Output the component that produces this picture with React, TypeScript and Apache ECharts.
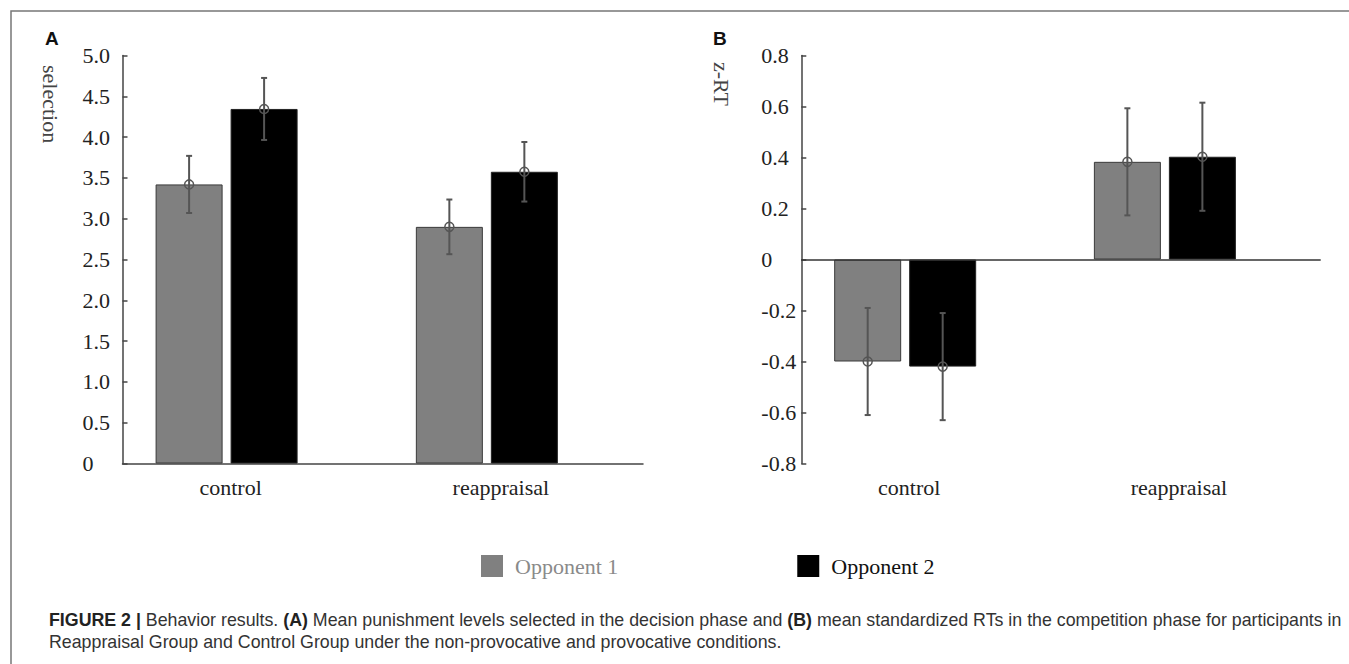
import React, { useEffect, useRef } from 'react';
import * as echarts from 'echarts';

// ---------- data ----------
const categories = ['control', 'reappraisal'];
const categoryPositions = [1, 2];
const seriesNames = ['Opponent 1', 'Opponent 2'];

// Panel A: selection (mean, error)
const selectionOpponent1 = [3.42, 2.9];
const selectionOpponent1Err = [0.35, 0.335];
const selectionOpponent2 = [4.345, 3.575];
const selectionOpponent2Err = [0.38, 0.365];

// Panel B: z-RT (mean, error)
const zrtOpponent1 = [-0.4, 0.383];
const zrtOpponent1Err = [0.21, 0.21];
const zrtOpponent2 = [-0.42, 0.403];
const zrtOpponent2Err = [0.21, 0.212];

const selectionAxis = { min: 0, max: 5, interval: 0.5 };
const zrtAxis = { min: -0.8, max: 0.8, interval: 0.2 };

// ---------- styles ----------
const SERIF = "'Liberation Serif', 'Times New Roman', serif";
const SANS = "'Liberation Sans', Arial, sans-serif";
const GRAY = '#808080';
const BLACK = '#000000';
const BAR_WIDTH = 67;
const BAR_GAP_PX = 8;
const HALF_OFFSET = (BAR_WIDTH + BAR_GAP_PX) / 2;
// category labels sit slightly right of the bar-pair centres in the original
const LABEL_SHIFT_PAD = [8, 28];

const barData = (vals: number[]) => categoryPositions.map((x, i) => [x, vals[i]]);
const errData = (vals: number[], errs: number[]) =>
  categoryPositions.map((x, i) => [x, vals[i], errs[i]]);

const makeErrRender = (offset: number) => (params: any, api: any) => {
  const x = api.value(0);
  const m = api.value(1);
  const e = api.value(2);
  const c = api.coord([x, m]);
  const hi = api.coord([x, m + e]);
  const lo = api.coord([x, m - e]);
  const cx = c[0] + offset;
  const st = { stroke: '#555555', lineWidth: 2 };
  return {
    type: 'group',
    children: [
      { type: 'line', shape: { x1: cx, y1: hi[1], x2: cx, y2: lo[1] }, style: st },
      { type: 'line', shape: { x1: cx - 3, y1: hi[1], x2: cx + 3, y2: hi[1] }, style: st },
      { type: 'line', shape: { x1: cx - 3, y1: lo[1], x2: cx + 3, y2: lo[1] }, style: st },
      {
        type: 'circle',
        shape: { cx, cy: c[1], r: 4.5 },
        style: { fill: 'none', stroke: '#555555', lineWidth: 1.5 },
      },
    ],
  };
};

const labelRich: any = {};
categories.forEach((_, i) => {
  labelRich[`c${i}`] = {
    fontFamily: SERIF,
    fontSize: 22,
    color: '#222',
    padding: [0, 0, 0, LABEL_SHIFT_PAD[i]],
  };
});

const xAxisBase = (gridIndex: number, showLine: boolean) => ({
  type: 'value',
  gridIndex,
  min: 0.6,
  max: 2.6,
  axisLine: { show: showLine, onZero: false, lineStyle: { color: '#444', width: 1.5 } },
  axisTick: { show: false },
  splitLine: { show: false },
  axisLabel: {
    customValues: categoryPositions,
    formatter: (v: number) => {
      const i = categoryPositions.indexOf(v);
      return i >= 0 ? `{c${i}|${categories[i]}}` : '';
    },
    rich: labelRich,
    fontFamily: SERIF,
    fontSize: 22,
    color: '#222',
    margin: 13,
  },
});

const yAxisBase = (gridIndex: number, ax: { min: number; max: number; interval: number }) => ({
  type: 'value',
  gridIndex,
  min: ax.min,
  max: ax.max,
  interval: ax.interval,
  axisLine: { show: true, onZero: false, lineStyle: { color: '#444', width: 1.5 } },
  axisTick: { show: true, inside: true, length: 5, lineStyle: { color: '#444', width: 1.5 } },
  splitLine: { show: false },
  axisLabel: {
    formatter: (v: number) => (Math.abs(v) < 1e-9 ? '0' : v.toFixed(1)),
    align: 'left',
    margin: 40,
    fontFamily: SERIF,
    fontSize: 22,
    color: '#222',
  },
});

const barSeries = (name: string, idx: number, vals: number[], color: string, border: string, markZero = false) => ({
  type: 'bar',
  name,
  xAxisIndex: idx,
  yAxisIndex: idx,
  data: barData(vals),
  barWidth: BAR_WIDTH,
  barGap: `${(BAR_GAP_PX / BAR_WIDTH) * 100}%`,
  itemStyle: { color, borderColor: border, borderWidth: 1 },
  z: 2,
  ...(markZero
    ? {
        markLine: {
          silent: true,
          symbol: 'none',
          label: { show: false },
          lineStyle: { color: '#333', type: 'solid', width: 1.5 },
          data: [{ yAxis: 0 }],
        },
      }
    : {}),
});

const errSeries = (idx: number, vals: number[], errs: number[], offset: number) => ({
  type: 'custom',
  name: `err-${idx}-${offset}`,
  xAxisIndex: idx,
  yAxisIndex: idx,
  data: errData(vals, errs),
  encode: { x: 0, y: 1 },
  renderItem: makeErrRender(offset),
  z: 5,
});

export default function App() {
  const ref = useRef<HTMLDivElement>(null);

  useEffect(() => {
    if (!ref.current) return;
    const chart = echarts.init(ref.current, undefined, { renderer: 'svg' });
    const option: any = {
      animation: false,
      backgroundColor: '#ffffff',
      grid: [
        { left: 122.5, top: 55.5, width: 520.5, height: 408 },
        { left: 801.3, top: 55.5, width: 519.4, height: 408 },
      ],
      xAxis: [xAxisBase(0, true), xAxisBase(1, false)],
      yAxis: [yAxisBase(0, selectionAxis), yAxisBase(1, zrtAxis)],
      legend: {
        left: 476,
        top: 550,
        icon: 'rect',
        itemWidth: 22,
        itemHeight: 22,
        itemGap: 179,
        itemStyle: { borderWidth: 0 },
        selectedMode: false,
        data: [
          { name: seriesNames[0], textStyle: { color: '#8a8a8a' } },
          { name: seriesNames[1], textStyle: { color: '#111' } },
        ],
        textStyle: { fontFamily: SERIF, fontSize: 22, padding: [0, 0, 0, 7] },
      },
      series: [
        barSeries(seriesNames[0], 0, selectionOpponent1, GRAY, '#3a3a3a'),
        barSeries(seriesNames[1], 0, selectionOpponent2, BLACK, '#222'),
        barSeries(seriesNames[0], 1, zrtOpponent1, GRAY, '#3a3a3a', true),
        barSeries(seriesNames[1], 1, zrtOpponent2, BLACK, '#222'),
        errSeries(0, selectionOpponent1, selectionOpponent1Err, -HALF_OFFSET),
        errSeries(0, selectionOpponent2, selectionOpponent2Err, HALF_OFFSET),
        errSeries(1, zrtOpponent1, zrtOpponent1Err, -HALF_OFFSET),
        errSeries(1, zrtOpponent2, zrtOpponent2Err, HALF_OFFSET),
      ],
      graphic: [
        {
          type: 'rect',
          z: -10,
          silent: true,
          shape: { x: 11, y: 11, width: 1400, height: 700 },
          style: { fill: 'none', stroke: '#777', lineWidth: 1.5 },
        },
        {
          type: 'text',
          x: 45,
          y: 38,
          style: { text: 'A', font: `bold 19px ${SANS}`, fill: '#111', verticalAlign: 'middle' },
        },
        {
          type: 'text',
          x: 713,
          y: 38,
          style: { text: 'B', font: `bold 19px ${SANS}`, fill: '#111', verticalAlign: 'middle' },
        },
        {
          type: 'text',
          x: 50,
          y: 65,
          rotation: -Math.PI / 2,
          style: {
            text: 'selection',
            font: `22px ${SERIF}`,
            fill: '#444',
            align: 'left',
            verticalAlign: 'middle',
          },
        },
        {
          type: 'text',
          x: 721.7,
          y: 62,
          rotation: -Math.PI / 2,
          style: {
            text: 'z-RT',
            font: `22px ${SERIF}`,
            fill: '#444',
            align: 'left',
            verticalAlign: 'middle',
          },
        },
        {
          type: 'text',
          x: 49,
          y: 620,
          style: {
            text:
              '{b|FIGURE 2 |} Behavior results. {b|(A)} Mean punishment levels selected in the decision phase and {b|(B)} mean standardized RTs in the competition phase for participants in',
            font: `17.8px ${SANS}`,
            fill: '#333',
            verticalAlign: 'middle',
            rich: { b: { fontWeight: 'bold', fontSize: 17.8, fontFamily: SANS, fill: '#222' } },
          },
        },
        {
          type: 'text',
          x: 49,
          y: 642,
          style: {
            text: 'Reappraisal Group and Control Group under the non-provocative and provocative conditions.',
            font: `17.8px ${SANS}`,
            fill: '#333',
            verticalAlign: 'middle',
          },
        },
      ],
    };
    chart.setOption(option);
    return () => chart.dispose();
  }, []);

  return (
    <div
      ref={ref}
      style={{ position: 'absolute', left: 0, top: 0, width: 1349, height: 664 }}
    />
  );
}
